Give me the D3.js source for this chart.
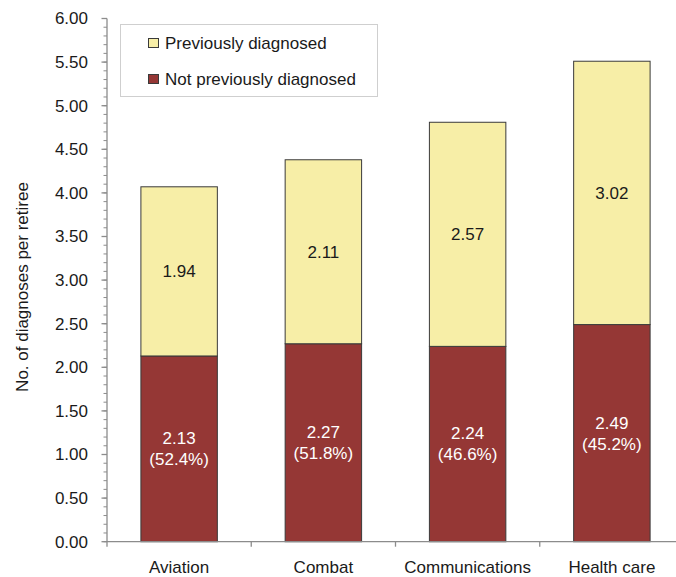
<!DOCTYPE html>
<html>
<head>
<meta charset="utf-8">
<script src="https://cdn.jsdelivr.net/npm/d3@7"></script>
<style>
  html, body { margin: 0; padding: 0; background: #fff; }
  svg { display: block; }
  text { font-family: "Liberation Sans", Arial, sans-serif; }
</style>
</head>
<body>
<svg id="chart" width="676" height="577"></svg>
<script>
const categories = ["Aviation", "Combat", "Communications", "Health care"];
const notPrevious = [2.13, 2.27, 2.24, 2.49];
const previous = [1.94, 2.11, 2.57, 3.02];
const notPreviousPct = ["52.4%", "51.8%", "46.6%", "45.2%"];
const seriesNames = ["Previously diagnosed", "Not previously diagnosed"];
const yTicks = [0, 0.5, 1, 1.5, 2, 2.5, 3, 3.5, 4, 4.5, 5, 5.5, 6];
const yLabel = "No. of diagnoses per retiree";

const colPrev = "#F7EEA7";
const colNot = "#953735";
const fs = 17;

const svg = d3.select("#chart");
const x0 = 107, x1 = 684, yBottom = 541.7, yTop = 18.5;

const x = d3.scaleBand().domain(categories).range([x0, x1])
  .paddingInner(0.47).paddingOuter(0.235).align(0.5);
const xCat = d3.scaleBand().domain(categories).range([x0, x1]).padding(0);
const y = d3.scaleLinear().domain([0, 6]).range([yBottom, yTop]);

const data = categories.map((c, i) => ({
  cat: c, not: notPrevious[i], prev: previous[i], pct: notPreviousPct[i]
}));

// Bars
const g = svg.append("g");
data.forEach(d => {
  g.append("rect")
    .attr("x", x(d.cat)).attr("width", x.bandwidth())
    .attr("y", y(d.not)).attr("height", y(0) - y(d.not))
    .attr("fill", colNot).attr("stroke", "#3a3a3a").attr("stroke-width", 1);
  g.append("rect")
    .attr("x", x(d.cat)).attr("width", x.bandwidth())
    .attr("y", y(d.not + d.prev)).attr("height", y(d.not) - y(d.not + d.prev))
    .attr("fill", colPrev).attr("stroke", "#3a3a3a").attr("stroke-width", 1);
  const cx = x(d.cat) + x.bandwidth() / 2;
  const cPrev = (y(d.not) + y(d.not + d.prev)) / 2;
  g.append("text").attr("x", cx).attr("y", cPrev).attr("dy", "0.35em")
    .attr("text-anchor", "middle").attr("font-size", fs).attr("fill", "#1a1a1a")
    .text(d.prev.toFixed(2));
  const cNot = (y(0) + y(d.not)) / 2;
  g.append("text").attr("x", cx).attr("y", cNot - 10.5).attr("dy", "0.35em")
    .attr("text-anchor", "middle").attr("font-size", fs).attr("fill", "#fff")
    .text(d.not.toFixed(2));
  g.append("text").attr("x", cx).attr("y", cNot + 10.5).attr("dy", "0.35em")
    .attr("text-anchor", "middle").attr("font-size", fs).attr("fill", "#fff")
    .text("(" + d.pct + ")");
});

// Y axis
const axisCol = "#8c8c8c";
const yAx = svg.append("g");
yAx.append("line").attr("x1", x0).attr("x2", x0).attr("y1", yTop).attr("y2", yBottom + 5)
  .attr("stroke", axisCol).attr("stroke-width", 1.3);
const minorTicks = d3.range(0, 61).map(v => v / 10);
minorTicks.forEach(v => {
  yAx.append("line").attr("x1", x0 - 3.5).attr("x2", x0).attr("y1", y(v)).attr("y2", y(v))
    .attr("stroke", axisCol).attr("stroke-width", 1);
});
yTicks.forEach(v => {
  yAx.append("line").attr("x1", x0 - 5.5).attr("x2", x0).attr("y1", y(v)).attr("y2", y(v))
    .attr("stroke", axisCol).attr("stroke-width", 1.3);
  yAx.append("text").attr("x", 88).attr("y", y(v)).attr("dy", "0.35em")
    .attr("text-anchor", "end").attr("font-size", fs).attr("fill", "#1a1a1a")
    .text(v.toFixed(2));
});

// X axis
const xAx = svg.append("g");
xAx.append("line").attr("x1", x0).attr("x2", x1).attr("y1", yBottom).attr("y2", yBottom)
  .attr("stroke", axisCol).attr("stroke-width", 1.3);
categories.forEach((c, i) => {
  if (i > 0) {
    xAx.append("line").attr("x1", xCat(c)).attr("x2", xCat(c))
      .attr("y1", yBottom).attr("y2", yBottom + 5)
      .attr("stroke", axisCol).attr("stroke-width", 1.3);
  }
  xAx.append("text").attr("x", xCat(c) + xCat.bandwidth() / 2).attr("y", 573)
    .attr("text-anchor", "middle").attr("font-size", fs).attr("fill", "#1a1a1a")
    .text(c);
});

// Y label
svg.append("text").attr("transform", "translate(28,287) rotate(-90)")
  .attr("text-anchor", "middle").attr("font-size", fs).attr("fill", "#1a1a1a")
  .text(yLabel);

// Legend
const lg = svg.append("g");
lg.append("rect").attr("x", 120.5).attr("y", 24.5).attr("width", 257).attr("height", 72)
  .attr("fill", "#fff").attr("stroke", "#cfcfcf").attr("stroke-width", 1);
const legCols = [colPrev, colNot];
const legY = [43, 79];
seriesNames.forEach((n, i) => {
  lg.append("rect").attr("x", 148.5).attr("y", legY[i] - 4.5).attr("width", 10).attr("height", 9)
    .attr("fill", legCols[i]).attr("stroke", "#3a3a3a").attr("stroke-width", 1);
  lg.append("text").attr("x", 165).attr("y", legY[i]).attr("dy", "0.35em")
    .attr("font-size", fs).attr("fill", "#1a1a1a").text(n);
});
</script>
</body>
</html>
